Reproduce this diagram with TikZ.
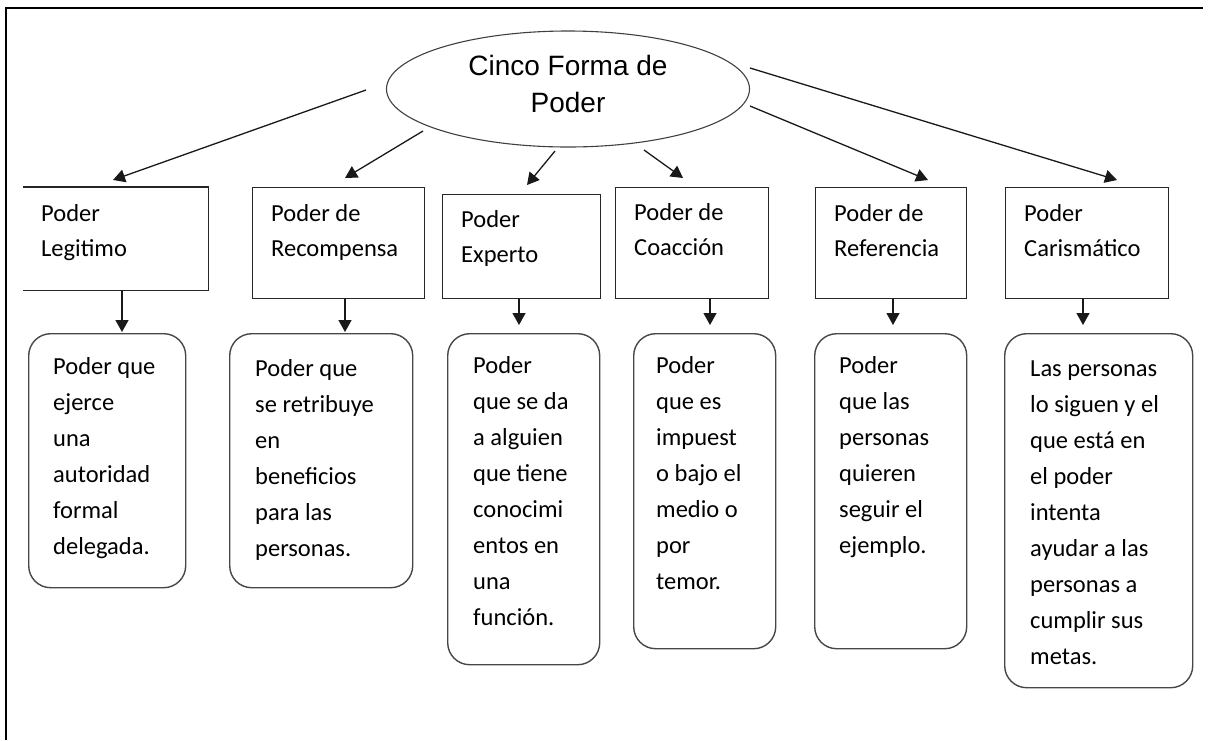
\documentclass[tikz,border=0pt]{standalone}
\usepackage{fontspec}
\setmainfont{Carlito}
\newfontfamily\arialf{Liberation Sans}
\usetikzlibrary{arrows.meta,calc,shapes.geometric}
\begin{document}
\begin{tikzpicture}[x=1pt,y=-1pt,
  sq/.style={draw=black!85, line width=1.2pt, inner sep=0pt, anchor=north west},
  rbox/.style={draw=black!72, line width=1.4pt, rounded corners=22pt, inner sep=0pt, anchor=north west},
  lbl/.style={inner sep=0pt, anchor=base west, align=left, font=\fontsize{24.5}{36}\selectfont},
  tlbl/.style={inner sep=0pt, anchor=base west, align=left, font=\fontsize{24.5}{35}\selectfont},
  arr/.style={-{Triangle[length=12pt,width=13pt]}, line width=1.3pt, black!90},
  frame/.style={line width=2.2pt, black}]
\useasboundingbox (0,0) rectangle (1209,740);
% frame
\coordinate (fa) at (6,740);
\coordinate (fb) at (6,8);
\coordinate (fc) at (1203,8);
\draw[frame] (fa) -- (fb) -- (fc);
% central ellipse
\node[draw=black!75, line width=1.1pt, ellipse, minimum width=363pt, minimum height=116pt, inner sep=0pt] (E) at (568,89) {};
\node[inner sep=0pt, anchor=base, align=center, font=\arialf\fontsize{28}{37}\selectfont] (Et) at (568,112) {Cinco Forma de\\Poder};
% top boxes
\node[minimum width=185pt, minimum height=103pt, inner sep=0pt, anchor=north west] (b1) at (23,187) {};
\draw[draw=black!85, line width=1.2pt] (b1.north west) -- (b1.north east) -- (b1.south east) -- (b1.south west);
\node[sq, minimum width=172pt, minimum height=111pt] (b2) at (252,187) {};
\node[sq, minimum width=158pt, minimum height=104pt] (b3) at (442,194) {};
\node[sq, minimum width=153pt, minimum height=111pt] (b4) at (615,187) {};
\node[sq, minimum width=151pt, minimum height=111pt] (b5) at (815,187) {};
\node[sq, minimum width=163pt, minimum height=111pt] (b6) at (1005,187) {};
% (anchor base = baseline of the last line)
\node[tlbl] (bt1) at (41,256) {Poder\\Legitimo};
\node[tlbl] (bt2) at (271,256) {Poder de\\Recompensa};
\node[tlbl] (bt3) at (461,262) {Poder\\Experto};
\node[tlbl] (bt4) at (634,255) {Poder de\\Coacción};
\node[tlbl] (bt5) at (834,256) {Poder de\\Referencia};
\node[tlbl] (bt6) at (1024,256) {Poder\\Carismático};
% rounded boxes
\node[rbox, minimum width=157pt, minimum height=254pt] (r1) at (28,333) {};
\node[rbox, minimum width=183pt, minimum height=254pt] (r2) at (229,333) {};
\node[rbox, minimum width=152pt, minimum height=331pt] (r3) at (447,333) {};
\node[rbox, minimum width=142pt, minimum height=315pt] (r4) at (633,333) {};
\node[rbox, minimum width=152pt, minimum height=315pt] (r5) at (814,333) {};
\node[rbox, minimum width=188pt, minimum height=354pt] (r6) at (1004,333) {};
\node[lbl] (rt1) at (53,554) {Poder que\\ejerce\\una\\autoridad\\formal\\delegada.};
\node[lbl] (rt2) at (255,556) {Poder que\\se retribuye\\en\\beneficios\\para las\\personas.};
\node[lbl] (rt3) at (473,625) {Poder\\que se da\\a alguien\\que tiene\\conocimi\\entos en\\una\\función.};
\node[lbl] (rt4) at (656,589) {Poder\\que es\\impuest\\o bajo el\\medio o\\por\\temor.};
\node[lbl] (rt5) at (839,553) {Poder\\que las\\personas\\quieren\\seguir el\\ejemplo.};
\node[lbl] (rt6) at (1030,664) {Las personas\\lo siguen y el\\que está en\\el poder\\intenta\\ayudar a las\\personas a\\cumplir sus\\metas.};
% arrows from ellipse
\coordinate (s1) at (366,90);   \coordinate (t1) at (113,180);
\coordinate (s2) at (423,131);  \coordinate (t2) at (345,178);
\coordinate (s3) at (555,151);  \coordinate (t3) at (527,185);
\coordinate (s4) at (644,150);  \coordinate (t4) at (683,178);
\coordinate (s5) at (750,106);  \coordinate (t5) at (928,180);
\coordinate (s6) at (750,68);   \coordinate (t6) at (1117,180);
\foreach \i in {1,...,6} \draw[arr] (s\i) -- (t\i);
% down arrows
\coordinate (x1) at (122,0);
\coordinate (x2) at (345,0);
\coordinate (x3) at (519,0);
\coordinate (x4) at (710,0);
\coordinate (x5) at (893,0);
\coordinate (x6) at (1083,0);
\draw[arr, shorten >=1pt] (b1.south -| x1) -- (r1.north -| x1);
\draw[arr, shorten >=1pt] (b2.south -| x2) -- (r2.north -| x2);
\draw[arr, shorten >=8pt] (b3.south -| x3) -- (r3.north -| x3);
\draw[arr, shorten >=8pt] (b4.south -| x4) -- (r4.north -| x4);
\draw[arr, shorten >=8pt] (b5.south -| x5) -- (r5.north -| x5);
\draw[arr, shorten >=8pt] (b6.south -| x6) -- (r6.north -| x6);
\end{tikzpicture}
\end{document}
